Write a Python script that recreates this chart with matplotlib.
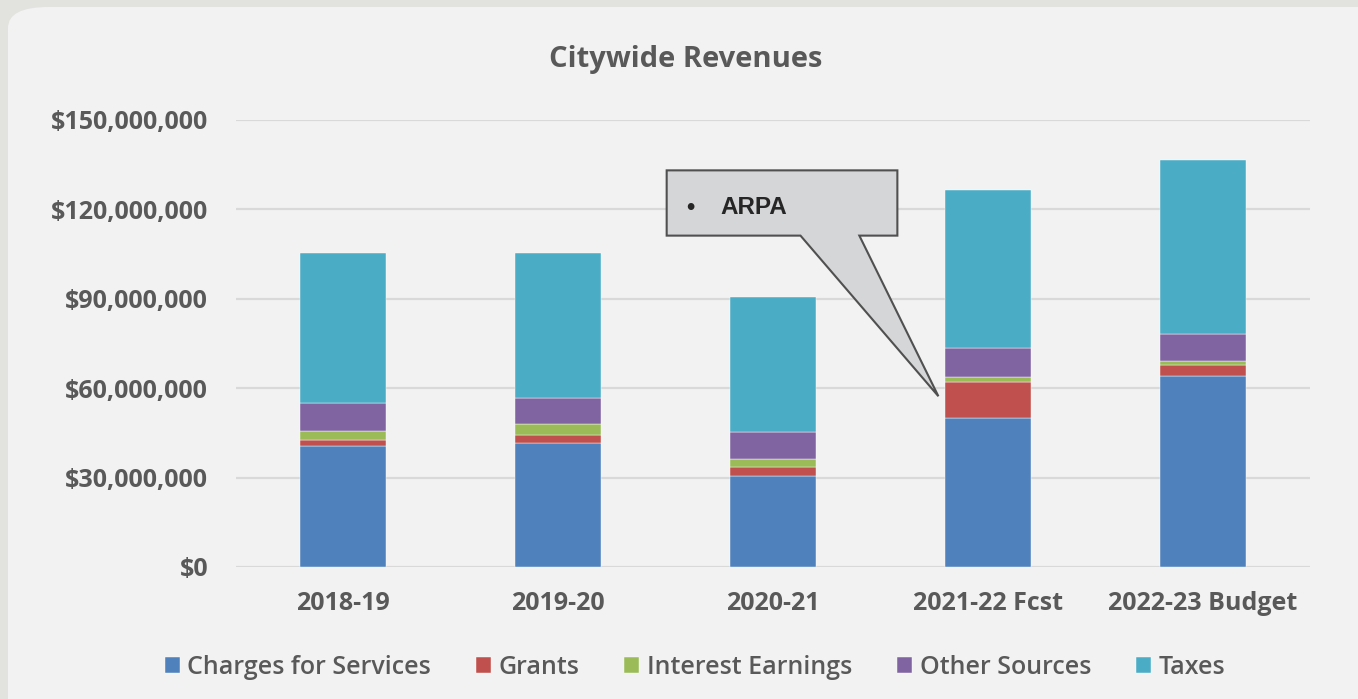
import numpy as np
import matplotlib.pyplot as plt
from matplotlib.patches import FancyBboxPatch, Polygon
from matplotlib.ticker import FuncFormatter

# values in $ millions
years = ['2018-19', '2019-20', '2020-21', '2021-22 Fcst', '2022-23 Budget']
charges = [40.7, 41.5, 30.5, 49.9, 64.0]
grants = [1.9, 2.7, 3.1, 12.3, 3.8]
interest = [3.0, 3.7, 2.6, 1.5, 1.3]
other = [9.5, 8.7, 9.0, 9.9, 9.1]
taxes = [50.2, 48.7, 45.3, 52.9, 58.4]

series = [
    ('Charges for Services', charges, '#4f81bd'),
    ('Grants', grants, '#c0504d'),
    ('Interest Earnings', interest, '#9bbb59'),
    ('Other Sources', other, '#8064a2'),
    ('Taxes', taxes, '#4bacc6'),
]

txt = '#595959'
plt.rcParams['font.family'] = ['Open Sans', 'DejaVu Sans']

fig = plt.figure(figsize=(13.58, 6.99), dpi=100)
fig.patch.set_facecolor('#e2e2de')
panel = FancyBboxPatch((8 / 1358, -0.05), 1.1, 1.05 - 7 / 699,
                       boxstyle='round,pad=0,rounding_size=0.03',
                       transform=fig.transFigure, facecolor='#f2f2f2',
                       edgecolor='none', zorder=-10)
fig.patches.append(panel)

ax = fig.add_axes([236 / 1358, 1 - 567 / 699, (1310 - 236) / 1358, (567 - 120) / 699])
ax.set_facecolor('none')

x = np.arange(len(years))
bottom = np.zeros(len(years))
for name, vals, col in series:
    ax.bar(x, vals, 0.4, bottom=bottom, color=col, label=name,
           edgecolor='#ffffff', linewidth=0.3, zorder=3)
    bottom += np.array(vals)

ax.set_xlim(-0.5, len(years) - 0.5)
ax.set_ylim(0, 150)
ax.set_yticks(np.arange(0, 151, 30))
ax.yaxis.set_major_formatter(FuncFormatter(lambda v, p: f'${v * 1e6:,.0f}'))
ax.grid(axis='y', color='#d9d9d9', linewidth=1.6, zorder=0)
for s in ax.spines.values():
    s.set_visible(False)
ax.tick_params(length=0, colors=txt, labelsize=18, pad=20)
ax.tick_params(axis='x', pad=17)
ax.set_xticks(x)
ax.set_xticklabels(years)
for lab in ax.get_xticklabels() + ax.get_yticklabels():
    lab.set_fontweight('bold')

fig.text(686 / 1358, 1 - 60 / 699, 'Citywide Revenues', ha='center', va='center',
         fontsize=21, fontweight='bold', color=txt)

fig.legend(*ax.get_legend_handles_labels(), loc='center',
           bbox_to_anchor=(695 / 1358, 1 - 667 / 699), ncol=5,
           frameon=False, prop={'size': 18, 'weight': 'semibold'}, labelcolor=txt,
           handlelength=0.6, handleheight=0.6, handletextpad=0.3, columnspacing=1.8)

# ARPA callout pointing at the grants segment of 2021-22
callout = Polygon([(1.505, 133.1), (2.579, 133.1), (2.579, 111.2), (2.402, 111.2),
                   (2.77, 57.3), (2.128, 111.2), (1.505, 111.2)],
                  closed=True, facecolor='#d5d6d8', edgecolor='#505050',
                  linewidth=1.5, zorder=5)
ax.add_patch(callout)
ax.text(1.595, 120.6, '•', fontsize=17, fontweight='bold', color='#262626',
        family='Liberation Sans', va='center', zorder=6)
ax.text(1.755, 120.6, 'ARPA', fontsize=17.5, fontweight='bold', color='#262626',
        family='Liberation Sans', va='center', zorder=6)

fig.savefig('out.png', dpi=100, facecolor=fig.get_facecolor())
